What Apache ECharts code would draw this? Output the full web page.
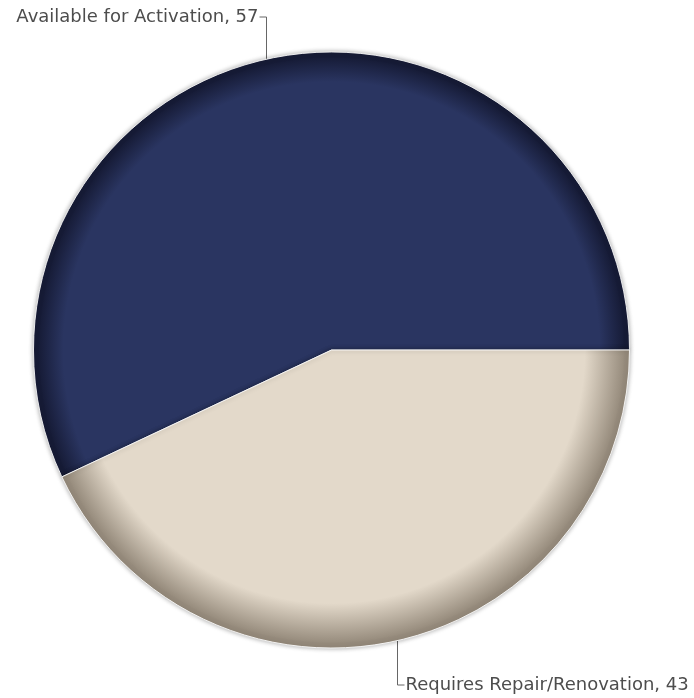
<!DOCTYPE html>
<html>
<head>
<meta charset="utf-8">
<script src="https://cdn.jsdelivr.net/npm/echarts@6/dist/echarts.min.js"></script>
<style>
  html, body { margin: 0; padding: 0; background: #fff; }
  #chart { width: 694px; height: 698px; }
</style>
</head>
<body>
<div id="chart"></div>
<script>
// Slice data
const categories = ['Available for Activation', 'Requires Repair/Renovation'];
const values = [57, 43];

// Base colour and edge colour for each slice (bevelled look)
const baseColors = ['#2a3561', '#e3d9ca'];
const edgeColors = ['#161b36', '#968b7c'];
const bevelStart = [0.9, 0.85];

const chart = echarts.init(document.getElementById('chart'));

const cx = 331.5, cy = 350, R = 298;

function bevel(i) {
  return {
    type: 'radial', x: cx, y: cy, r: R, global: true,
    colorStops: [
      { offset: 0, color: baseColors[i] },
      { offset: bevelStart[i], color: baseColors[i] },
      { offset: 0.985, color: edgeColors[i] },
      { offset: 1, color: edgeColors[i] }
    ]
  };
}

const labelY = [17, 685];

chart.setOption({
  animation: false,
  series: [{
    type: 'pie',
    center: [cx, cy],
    radius: [0, R],
    startAngle: 0,
    clockwise: false,
    data: categories.map((name, i) => ({
      name: name,
      value: values[i],
      itemStyle: { color: bevel(i) }
    })),
    itemStyle: {
      borderColor: 'rgba(255,255,255,0.85)',
      borderWidth: 1,
      shadowBlur: 5,
      shadowColor: 'rgba(0,0,0,0.35)'
    },
    label: {
      show: true,
      formatter: p => p.name + ', ' + p.value,
      fontFamily: 'DejaVu Sans, Verdana, sans-serif',
      fontSize: 18,
      color: '#4d4d4d',
      overflow: 'none',
      width: 400
    },
    labelLine: {
      show: true,
      lineStyle: { color: '#666', width: 1 }
    },
    labelLayout: function (params) {
      const i = params.dataIndex;
      const s = params.labelLinePoints ? params.labelLinePoints[0] : [cx, cy];
      const x0 = Math.round(s[0]) + 0.5;
      const y = labelY[i];
      if (i === 0) {
        return {
          x: x0 - 8, y: y, align: 'right', verticalAlign: 'middle',
          labelLinePoints: [[x0, s[1]], [x0, y], [x0 - 7, y]]
        };
      }
      return {
        x: x0 + 8, y: y, align: 'left', verticalAlign: 'middle',
        labelLinePoints: [[x0, s[1]], [x0, y], [x0 + 7, y]]
      };
    }
  }]
});
</script>
</body>
</html>
